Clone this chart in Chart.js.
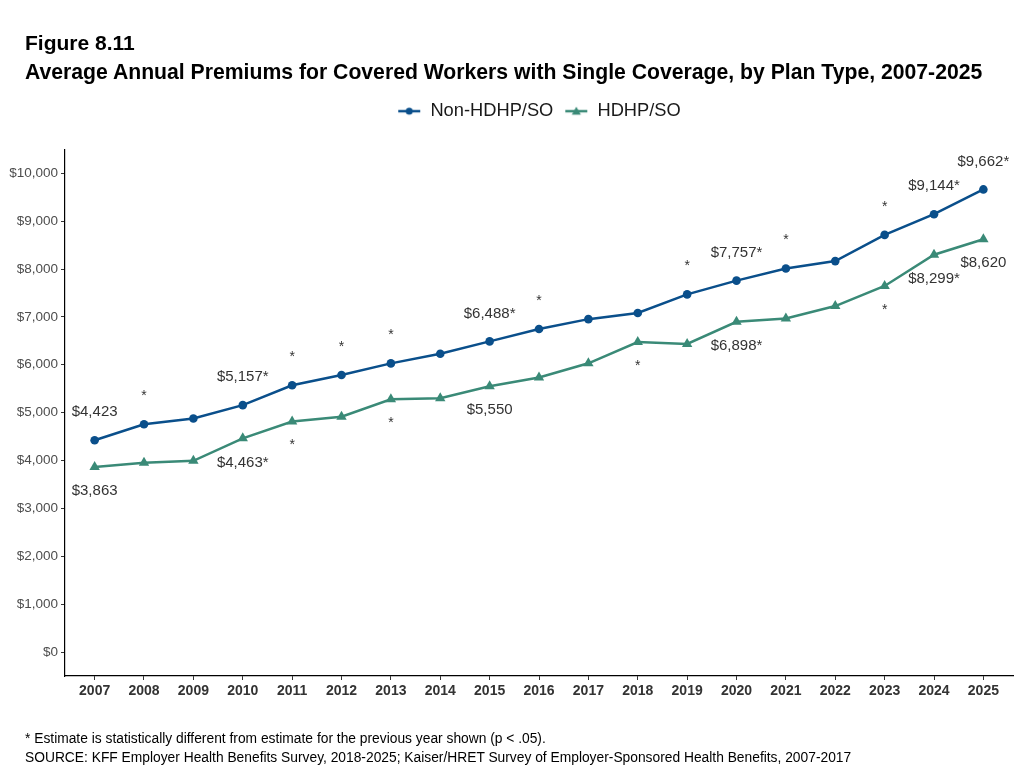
<!DOCTYPE html>
<html>
<head>
<meta charset="utf-8">
<title>Figure 8.11</title>
<script src="https://cdn.jsdelivr.net/npm/chart.js@4.4.1/dist/chart.umd.min.js"></script>
<style>
    body { margin: 0; background: #fff; }
    #wrap { position: relative; width: 1023px; height: 770px; font-family: "Liberation Sans", Arial, sans-serif; }
    .head { position: absolute; left: 25px; font-size: 21px; line-height: 24px; font-weight: bold; color: #000; white-space: nowrap; }
    #fig { top: 31px; }
    #sub { top: 60px; font-size: 21.2px; }
    #notes { position: absolute; left: 25px; top: 729px; font-size: 13.8px; line-height: 19px; color: #000; white-space: nowrap; }
</style>
</head>
<body>
<div id="wrap">
    <canvas id="premChart" width="1023" height="770"></canvas>
    <div class="head" id="fig">Figure 8.11</div>
    <div class="head" id="sub">Average Annual Premiums for Covered Workers with Single Coverage, by Plan Type, 2007-2025</div>
    <div id="notes">
        <div>* Estimate is statistically different from estimate for the previous year shown (p &lt; .05).</div>
        <div>SOURCE: KFF Employer Health Benefits Survey, 2018-2025; Kaiser/HRET Survey of Employer-Sponsored Health Benefits, 2007-2017</div>
    </div>
</div>
<script>
const years = [2007, 2008, 2009, 2010, 2011, 2012, 2013, 2014, 2015, 2016, 2017, 2018, 2019, 2020, 2021, 2022, 2023, 2024, 2025];
const nonHdhp = [4423, 4759, 4878, 5157, 5571, 5785, 6029, 6229, 6488, 6747, 6953, 7082, 7470, 7757, 8012, 8165, 8712, 9144, 9662];
const hdhp = [3863, 3955, 3994, 4463, 4813, 4916, 5279, 5300, 5550, 5733, 6031, 6475, 6436, 6898, 6965, 7226, 7646, 8299, 8620];
// significant change vs previous year
const nonHdhpSig = [0, 1, 0, 1, 1, 1, 1, 0, 1, 1, 0, 0, 1, 1, 1, 0, 1, 1, 1];
const hdhpSig = [0, 0, 0, 1, 1, 0, 1, 0, 0, 0, 0, 1, 0, 1, 0, 0, 1, 1, 0];
// years that get a dollar label
const labelYears = [2007, 2010, 2015, 2020, 2024, 2025];
const yTicks = [0, 1000, 2000, 3000, 4000, 5000, 6000, 7000, 8000, 9000, 10000];

const BLUE = "#0a4f8b";
const TEAL = "#3a8a77";
const FONT = "'Liberation Sans', Arial, sans-serif";

function money(v) {
    return "$" + v.toLocaleString("en-US");
}

// little line + marker images for the legend
function legendIcon(color, shape) {
    const c = document.createElement("canvas");
    c.width = 24;
    c.height = 12;
    const g = c.getContext("2d");
    g.strokeStyle = color;
    g.fillStyle = color;
    g.lineWidth = 2.5;
    g.beginPath();
    g.moveTo(1, 6);
    g.lineTo(23, 6);
    g.stroke();
    g.beginPath();
    if (shape === "circle") {
        g.arc(12, 6, 3.5, 0, Math.PI * 2);
    } else {
        g.moveTo(12, 1.5);
        g.lineTo(16.5, 9.5);
        g.lineTo(7.5, 9.5);
        g.closePath();
    }
    g.fill();
    return c;
}

// ggplot leaves more room under the legend than chart.js does
const legendGap = {
    id: "legendGap",
    afterInit(chart) {
        const lg = chart.legend;
        if (!lg) return;
        const fit = lg.fit;
        lg.fit = function () {
            fit.call(this);
            this.height += 19;
        };
    },
};

const valueLabels = {
    id: "valueLabels",
    afterDatasetsDraw(chart) {
        const ctx = chart.ctx;
        const sets = [
            { values: nonHdhp, sig: nonHdhpSig, dy: -28 },
            { values: hdhp, sig: hdhpSig, dy: 24 },
        ];
        ctx.save();
        ctx.fillStyle = "#333333";
        ctx.textAlign = "center";
        ctx.textBaseline = "middle";
        sets.forEach((s, di) => {
            const meta = chart.getDatasetMeta(di);
            meta.data.forEach((pt, i) => {
                let txt = "";
                if (labelYears.includes(years[i])) {
                    txt = money(s.values[i]) + (s.sig[i] ? "*" : "");
                    ctx.font = "15px " + FONT;
                } else if (s.sig[i]) {
                    txt = "*";
                    ctx.font = "14px " + FONT;
                }
                if (txt) ctx.fillText(txt, pt.x, pt.y + s.dy);
            });
        });
        ctx.restore();
    },
};

const ctx = document.getElementById("premChart").getContext("2d");
new Chart(ctx, {
    type: "line",
    data: {
        datasets: [
            {
                label: "Non-HDHP/SO",
                data: years.map((y, i) => ({ x: y, y: nonHdhp[i] })),
                borderColor: BLUE,
                backgroundColor: BLUE,
                borderWidth: 2.5,
                pointStyle: "circle",
                pointRadius: 4.3,
                pointBorderWidth: 0,
                legendIcon: legendIcon(BLUE, "circle"),
            },
            {
                label: "HDHP/SO",
                data: years.map((y, i) => ({ x: y, y: hdhp[i] })),
                borderColor: TEAL,
                backgroundColor: TEAL,
                borderWidth: 2.5,
                pointStyle: "triangle",
                pointRadius: 6,
                pointBorderWidth: 0,
                legendIcon: legendIcon(TEAL, "triangle"),
            },
        ],
    },
    options: {
        responsive: false,
        animation: false,
        layout: { padding: { left: 0, right: 10, top: 91, bottom: 60 } },
        plugins: {
            legend: {
                position: "top",
                fullSize: false,
                labels: {
                    usePointStyle: true,
                    pointStyleWidth: 24,
                    padding: 11,
                    color: "#1a1a1a",
                    font: { family: FONT, size: 18.3 },
                    generateLabels: (chart) =>
                        chart.data.datasets.map((ds, i) => ({
                            text: ds.label,
                            pointStyle: ds.legendIcon,
                            fontColor: "#1a1a1a",
                            datasetIndex: i,
                            lineWidth: 0,
                        })),
                },
            },
            tooltip: { enabled: false },
        },
        scales: {
            x: {
                type: "linear",
                min: 2006.4,
                max: 2025.6,
                afterBuildTicks: (s) => {
                    s.ticks = years.map((v) => ({ value: v }));
                },
                afterFit: (s) => {
                    s.height = 34;
                },
                ticks: {
                    color: "#333333",
                    padding: 3,
                    maxRotation: 0,
                    autoSkip: false,
                    font: { family: FONT, size: 14, weight: "bold" },
                    callback: (v) => String(v),
                },
                grid: { drawOnChartArea: false, tickLength: 4, color: "#333333" },
                border: { color: "#000", width: 1.2 },
            },
            y: {
                min: -500,
                max: 10500,
                afterBuildTicks: (s) => {
                    s.ticks = yTicks.map((v) => ({ value: v }));
                },
                afterFit: (s) => {
                    s.width = 65;
                },
                ticks: {
                    color: "#4d4d4d",
                    padding: 3,
                    font: { family: FONT, size: 13.5 },
                    callback: (v) => money(v),
                },
                grid: { drawOnChartArea: false, tickLength: 4, color: "#333333" },
                border: { color: "#000", width: 1.2 },
            },
        },
    },
    plugins: [legendGap, valueLabels],
});
</script>
</body>
</html>
